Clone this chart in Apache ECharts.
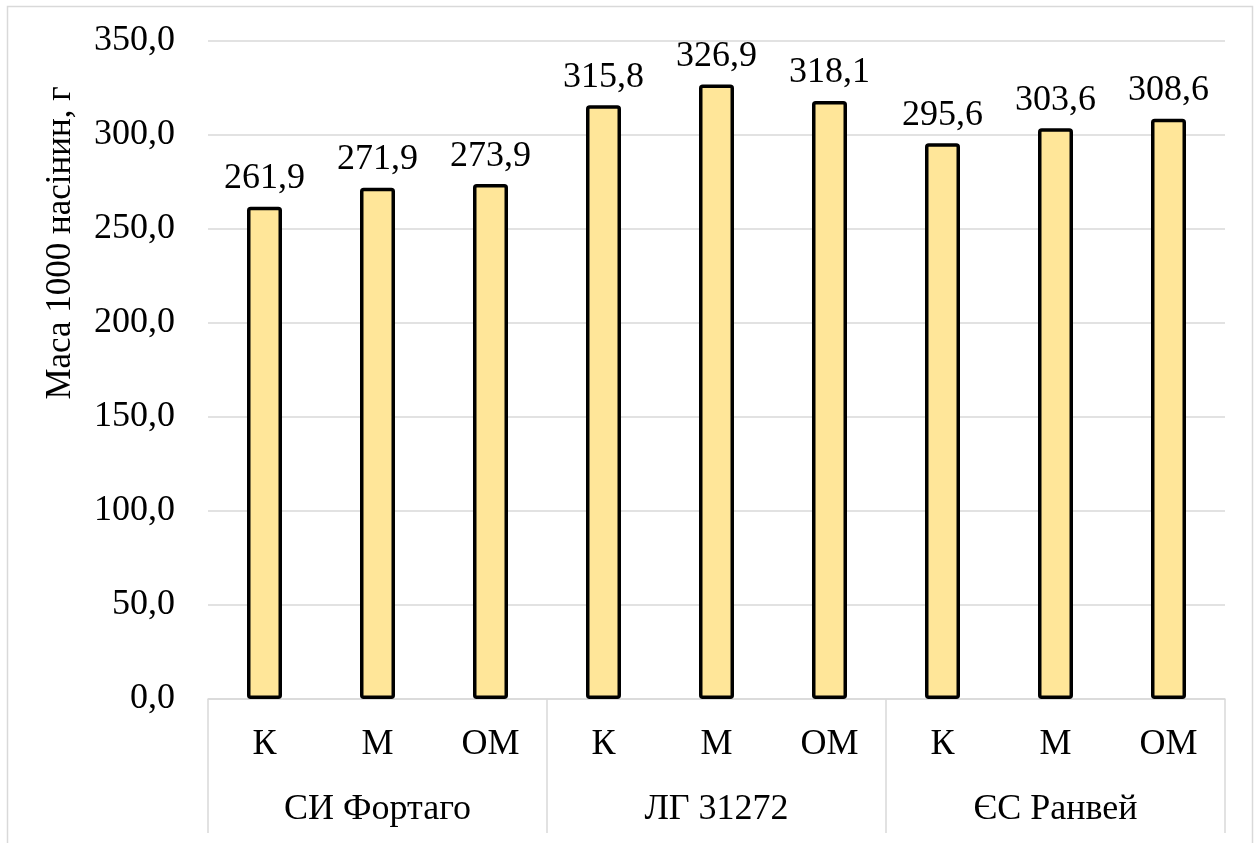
<!DOCTYPE html>
<html>
<head>
<meta charset="utf-8">
<script src="https://cdn.jsdelivr.net/npm/echarts@6/dist/echarts.min.js"></script>
<style>
html, body { margin: 0; padding: 0; background: #fff; }
#chart { width: 1259px; height: 843px; }
</style>
</head>
<body>
<div id="chart"></div>
<script>
// підписи та значення
const treatments = ['К', 'М', 'ОМ', 'К', 'М', 'ОМ', 'К', 'М', 'ОМ'];
const varieties = ['СИ Фортаго', 'ЛГ 31272', 'ЄС Ранвей'];
const seedMass = [261.9, 271.9, 273.9, 315.8, 326.9, 318.1, 295.6, 303.6, 308.6];
const yAxisTitle = 'Маса 1000 насінин, г';

const font = '"Liberation Serif", "Times New Roman", serif';
const fs = 36;
const fmt = v => v.toFixed(1).replace('.', ',');

let myChart = echarts.init(document.getElementById('chart'));
let option = {
    backgroundColor: '#fff',
    animation: false,
    textStyle: { fontFamily: font },
    graphic: [{
        type: 'rect',
        shape: { x: 7.5, y: 6.5, width: 1245, height: 850 },
        style: { fill: 'none', stroke: '#d9d9d9', lineWidth: 1.5 },
        silent: true
    }, {
        // назва осі Y (в оригіналі зміщена вгору)
        type: 'text',
        x: 61,
        y: 243,
        rotation: Math.PI / 2,
        style: {
            text: yAxisTitle,
            fill: '#000',
            font: '35px ' + font,
            align: 'center',
            verticalAlign: 'middle'
        },
        silent: true
    }],
    grid: { left: 208, right: 34, top: 41, bottom: 144 },
    xAxis: [{
        type: 'category',
        data: treatments,
        axisLine: { show: true, lineStyle: { color: '#d9d9d9', width: 1.5 } },
        axisTick: { show: false },
        axisLabel: { color: '#000', fontSize: fs, fontFamily: font, margin: 28, interval: 0 }
    }, {
        type: 'category',
        data: varieties,
        position: 'bottom',
        axisLine: { show: false },
        axisTick: { show: true, length: 134, lineStyle: { color: '#d9d9d9', width: 1.5 } },
        axisLabel: { color: '#000', fontSize: fs, fontFamily: font, margin: 93, interval: 0 }
    }],
    yAxis: {
        type: 'value',
        min: 0,
        max: 350,
        interval: 50,
        axisLine: { show: false },
        axisTick: { show: false },
        axisLabel: { color: '#000', fontSize: fs, fontFamily: font, margin: 33, formatter: v => fmt(v) },
        splitLine: { lineStyle: { color: '#d9d9d9', width: 1.5 } }
    },
    series: [{
        type: 'bar',
        data: seedMass,
        barWidth: 35,
        itemStyle: { color: '#FFE699', borderColor: '#000', borderWidth: 3.5, borderRadius: 2 },
        label: {
            show: true,
            position: 'top',
            distance: 10,
            color: '#000',
            fontSize: fs,
            fontFamily: font,
            formatter: p => fmt(p.value)
        }
    }]
};
myChart.setOption(option);
</script>
</body>
</html>
